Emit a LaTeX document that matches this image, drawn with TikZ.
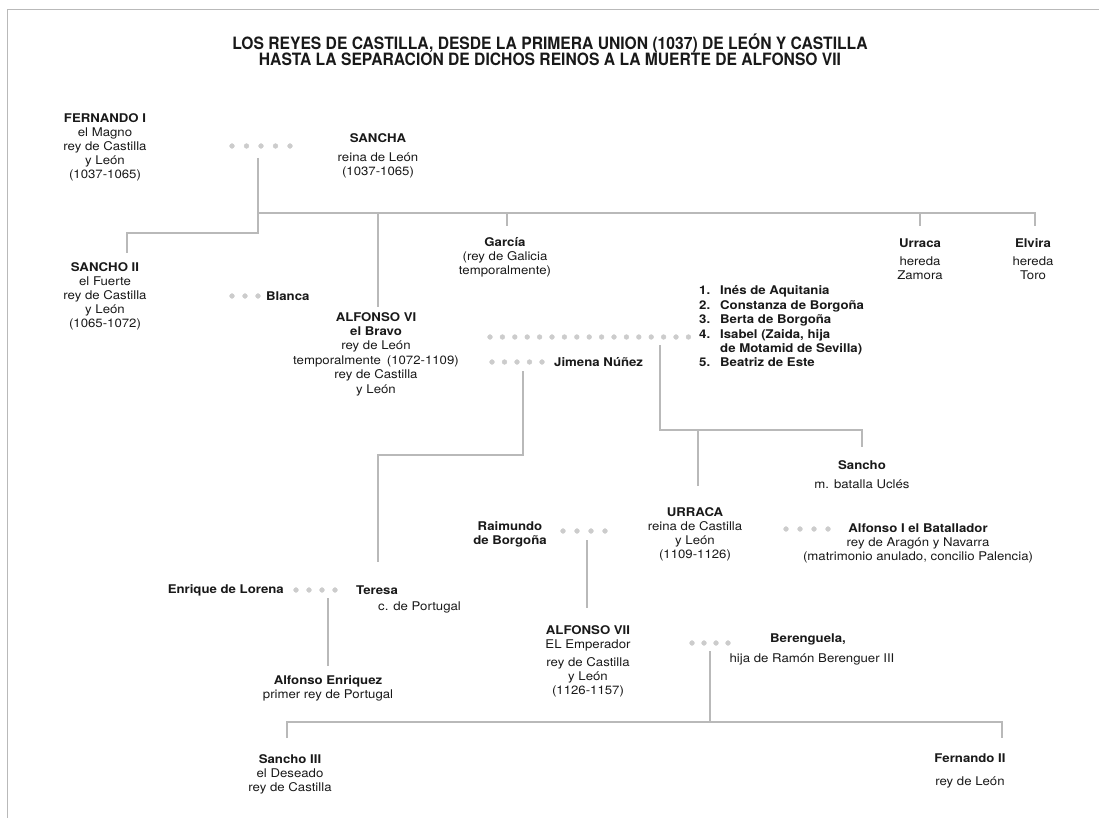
\documentclass[tikz,border=0pt]{standalone}
\usepackage{fontspec}
\setmainfont{TeX Gyre Heros}[FakeStretch=1.1]
\newfontfamily\titlefont{TeX Gyre Heros}[FakeStretch=0.92]
\tikzset{
  person/.style={align=center, inner sep=0pt, text=black!90, font=\fontsize{12}{14}\selectfont},
  link/.style={gray!55, line width=2.8pt},
  wed/.style={gray!40},
}
\begin{document}
\begin{tikzpicture}[x=1pt,y=-1pt]
        \useasboundingbox (0,0) rectangle (1099,818);
        \draw[gray!55, line width=1pt] (1099,10) -- (7,10) -- (7,818);

        \node[person, font=\titlefont\fontsize{17}{16.5}\selectfont\bfseries] (title) at (550,50)
            {LOS REYES DE CASTILLA, DESDE LA PRIMERA UNION (1037) DE LEÓN Y CASTILLA\\
             HASTA LA SEPARACION DE DICHOS REINOS A LA MUERTE DE ALFONSO VII};

        %personas
        \node[person] (fernando) at (105,147) {\textbf{FERNANDO I}\\el Magno\\rey de Castilla\\y León\\(1037-1065)};
        \node[person] (sancha) at (378,156) {\textbf{SANCHA}\\[5pt]reina de León\\(1037-1065)};
        \node[person] (garcia) at (505,257) {\textbf{García}\\(rey de Galicia\\temporalmente)};
        \node[person] (urraca) at (920,259) {\textbf{Urraca}\\[4pt]hereda\\Zamora};
        \node[person] (elvira) at (1033,259) {\textbf{Elvira}\\[4pt]hereda\\Toro};
        \node[person] (sanchoII) at (105,296) {\textbf{SANCHO II}\\el Fuerte\\rey de Castilla\\y León\\(1065-1072)};
        \node[person, anchor=west] (blanca) at (266,296) {\textbf{Blanca}};
        \node[person, font=\fontsize{12}{14.4}\selectfont] (alfonsoVI) at (376,354)
            {\textbf{ALFONSO VI}\\\textbf{el Bravo}\\rey de León\\temporalmente\hspace{6pt}(1072-1109)\\rey de Castilla\\y León};
        \node[person, anchor=west, font=\fontsize{12}{14.4}\selectfont\bfseries] (esposas) at (699,328)
            {\begin{tabular}{@{}l@{\hspace{10pt}}l@{}}
             1.&Inés de Aquitania\\ 2.&Constanza de Borgoña\\ 3.&Berta de Borgoña\\
             4.&Isabel (Zaida, hija\\ &de Motamid de Sevilla)\\ 5.&Beatriz de Este
             \end{tabular}};
        \node[person, anchor=west] (jimena) at (554,362) {\textbf{Jimena Núñez}};
        \node[person] (sancho) at (862,475) {\textbf{Sancho}\\[5pt]m. batalla Uclés};
        \node[person] (urracaQ) at (695,534) {\textbf{URRACA}\\reina de Castilla\\y León\\(1109-1126)};
        \node[person] (raimundo) at (510,534) {\textbf{Raimundo}\\\textbf{de Borgoña}};
        \node[person] (alfonsoI) at (918,543) {\textbf{Alfonso I el Batallador}\\rey de Aragón y Navarra\\(matrimonio anulado, concilio Palencia)};
        \node[person, anchor=east] (enrique) at (284,590) {\textbf{Enrique de Lorena}};
        \node[person, anchor=west] (teresa) at (356,590) {\textbf{Teresa}};
        \node[person, anchor=west] (portugal) at (378,607) {c. de Portugal};
        \node[person] (alfonsoE) at (328,688) {\textbf{Alfonso Enriquez}\\primer rey de Portugal};
        \node[person] (alfonsoVII) at (588,661) {\textbf{ALFONSO VII}\\EL Emperador\\[4pt]rey de Castilla\\y León\\(1126-1157)};
        \node[person, anchor=west] (berenguela) at (770,639) {\textbf{Berenguela,}};
        \node[person] (hija) at (812,659) {hija de Ramón Berenguer III};
        \node[person] (sanchoIII) at (290,774) {\textbf{Sancho III}\\el Deseado\\rey de Castilla};
        \node[person] (fernandoII) at (970,771) {\textbf{Fernando II}\\[9pt]rey de León};

        %puntos de matrimonio
        \filldraw[wed] (232,146) circle (2.4pt);
        \filldraw[wed] (246.5,146) circle (2.4pt);
        \filldraw[wed] (261,146) circle (2.4pt);
        \filldraw[wed] (275.5,146) circle (2.4pt);
        \filldraw[wed] (290,146) circle (2.4pt);

        \filldraw[wed] (232,296) circle (2.4pt);
        \filldraw[wed] (245,296) circle (2.4pt);
        \filldraw[wed] (258,296) circle (2.4pt);

        \foreach \i in {0,...,16}
            \filldraw[wed] (490+12.4*\i,337) circle (2.4pt);

        \filldraw[wed] (492,362) circle (2.4pt);
        \filldraw[wed] (504.5,362) circle (2.4pt);
        \filldraw[wed] (517,362) circle (2.4pt);
        \filldraw[wed] (529.5,362) circle (2.4pt);
        \filldraw[wed] (542,362) circle (2.4pt);

        \filldraw[wed] (563,531) circle (2.4pt);
        \filldraw[wed] (577,531) circle (2.4pt);
        \filldraw[wed] (591,531) circle (2.4pt);
        \filldraw[wed] (605,531) circle (2.4pt);

        \filldraw[wed] (786,529) circle (2.4pt);
        \filldraw[wed] (800,529) circle (2.4pt);
        \filldraw[wed] (814,529) circle (2.4pt);
        \filldraw[wed] (828,529) circle (2.4pt);

        \filldraw[wed] (296,590) circle (2.4pt);
        \filldraw[wed] (309,590) circle (2.4pt);
        \filldraw[wed] (322,590) circle (2.4pt);
        \filldraw[wed] (335,590) circle (2.4pt);

        \filldraw[wed] (692,643) circle (2.4pt);
        \filldraw[wed] (704,643) circle (2.4pt);
        \filldraw[wed] (716,643) circle (2.4pt);
        \filldraw[wed] (728,643) circle (2.4pt);

        %lineas
        \coordinate (fsTop) at (258,158);
        \coordinate (fsBar) at (258,213);
        \coordinate (fsBend) at (258,233);
        \coordinate (sIIend) at (127,253);
        \coordinate (aVIend) at (378,307);
        \coordinate (garciaEnd) at (507,226);
        \coordinate (urracaEnd) at (920,226);
        \coordinate (elviraEnd) at (1035,226);
        \draw[link] (fsTop) -- (fsBend) -| (sIIend);
        \draw[link] (fsBar) -| (elviraEnd);
        \draw[link] (fsBar -| aVIend) -- (aVIend);
        \draw[link] (fsBar -| garciaEnd) -- (garciaEnd);
        \draw[link] (fsBar -| urracaEnd) -- (urracaEnd);

        \coordinate (avTop) at (660,345);
        \coordinate (avBar) at (660,430);
        \coordinate (sanchoEnd) at (862,447);
        \coordinate (urracaQEnd) at (698,486);
        \draw[link] (avTop) -- (avBar) -| (sanchoEnd);
        \draw[link] (avBar -| urracaQEnd) -- (urracaQEnd);

        \coordinate (ajTop) at (523,371);
        \coordinate (ajBend) at (523,455);
        \coordinate (teresaEnd) at (378,562);
        \draw[link] (ajTop) -- (ajBend) -| (teresaEnd);

        \coordinate (etTop) at (328,598);
        \coordinate (alfonsoEEnd) at (328,666);
        \draw[link] (etTop) -- (alfonsoEEnd);

        \coordinate (urTop) at (587,540);
        \coordinate (alfonsoVIIEnd) at (587,608);
        \draw[link] (urTop) -- (alfonsoVIIEnd);

        \coordinate (abTop) at (710,651);
        \coordinate (abBar) at (710,722);
        \coordinate (sanchoIIIEnd) at (287,738);
        \coordinate (fernandoIIEnd) at (1002,738);
        \draw[link] (abTop) -- (abBar);
        \draw[link] (sanchoIIIEnd) |- (abBar) -| (fernandoIIEnd);

\end{tikzpicture}
\end{document}
